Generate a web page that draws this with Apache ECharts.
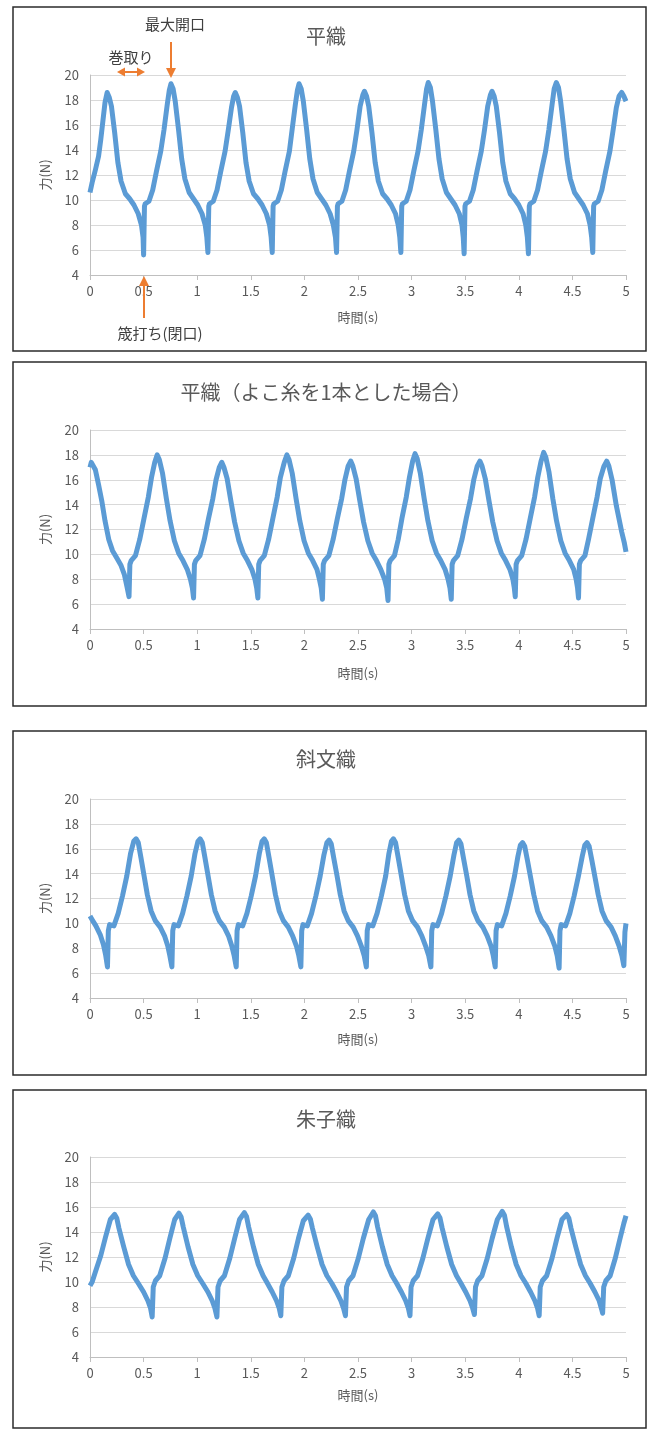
<!DOCTYPE html>
<html>
<head>
<meta charset="utf-8">
<script src="https://cdn.jsdelivr.net/npm/echarts@6/dist/echarts.min.js"></script>
<style>
html,body{margin:0;padding:0;background:#fff;}
#c{width:652px;height:1429px;}
</style>
</head>
<body>
<div id="c"></div>
<script>
// ---- data (time s, force N) ----
const panelTitles = ['平織', '平織（よこ糸を1本とした場合）', '斜文織', '朱子織'];
const xTitle = '時間(s)';
const yTitle = '力(N)';
const xMin = 0, xMax = 5, xStep = 0.5;
const yMin = 4, yMax = 20, yStep = 2;

const hiraori = [
[0,10.6],[0.02,11.4],[0.05,12.4],[0.08,13.5],[0.1,14.8],[0.12,16.3],[0.14,17.8],[0.16,18.6],
[0.18,18.2],[0.2,17.5],[0.23,15.4],[0.26,13.0],[0.29,11.5],[0.33,10.5],[0.37,10.1],[0.41,9.6],[0.45,8.9],[0.48,8.0],[0.495,7.0],[0.5,5.6],
[0.508,9.5],[0.515,9.7],[0.55,9.9],[0.585,10.8],[0.62,12.3],[0.66,13.9],[0.69,15.6],[0.72,17.6],[0.74,18.8],[0.755,19.3],
[0.775,18.9],[0.795,17.9],[0.825,15.7],[0.855,13.3],[0.885,11.7],[0.925,10.6],[0.965,10.1],[1.005,9.6],[1.045,8.9],[1.075,8.0],[1.09,7.0],[1.1,5.8],
[1.108,9.5],[1.115,9.7],[1.15,9.9],[1.185,10.8],[1.22,12.3],[1.26,13.9],[1.29,15.6],[1.32,17.4],[1.34,18.3],[1.355,18.6],
[1.375,18.2],[1.395,17.5],[1.425,15.4],[1.455,13.0],[1.485,11.5],[1.525,10.5],[1.565,10.1],[1.605,9.6],[1.645,8.9],[1.675,8.0],[1.69,7.0],[1.7,5.8],
[1.708,9.5],[1.715,9.7],[1.75,9.9],[1.785,10.8],[1.82,12.3],[1.86,13.9],[1.885,15.6],[1.915,17.6],[1.935,18.8],[1.95,19.3],
[1.97,18.9],[1.99,17.9],[2.02,15.7],[2.05,13.3],[2.08,11.7],[2.12,10.6],[2.16,10.1],[2.2,9.6],[2.24,8.9],[2.27,8.0],[2.29,7.0],[2.3,5.8],
[2.308,9.5],[2.315,9.7],[2.35,9.9],[2.385,10.8],[2.42,12.3],[2.46,13.9],[2.49,15.6],[2.52,17.5],[2.545,18.4],[2.56,18.7],
[2.58,18.3],[2.6,17.5],[2.63,15.4],[2.66,13.0],[2.69,11.5],[2.73,10.5],[2.77,10.1],[2.81,9.6],[2.85,8.9],[2.875,8.0],[2.89,7.0],[2.9,5.8],
[2.908,9.5],[2.915,9.7],[2.95,9.9],[2.985,10.8],[3.02,12.3],[3.06,13.9],[3.09,15.6],[3.12,17.6],[3.14,18.9],[3.155,19.4],
[3.175,19.0],[3.195,17.9],[3.225,15.7],[3.255,13.3],[3.285,11.7],[3.325,10.6],[3.365,10.1],[3.405,9.6],[3.445,8.9],[3.47,8.0],[3.482,7.0],[3.49,5.7],
[3.498,9.5],[3.505,9.7],[3.54,9.9],[3.575,10.8],[3.61,12.3],[3.65,13.9],[3.68,15.6],[3.71,17.5],[3.735,18.4],[3.75,18.7],
[3.77,18.3],[3.79,17.5],[3.82,15.4],[3.85,13.0],[3.88,11.5],[3.92,10.5],[3.96,10.1],[4.0,9.6],[4.04,8.9],[4.065,8.0],[4.08,7.0],[4.09,5.7],
[4.098,9.5],[4.105,9.7],[4.14,9.9],[4.175,10.8],[4.21,12.3],[4.25,13.9],[4.28,15.6],[4.31,17.6],[4.33,18.9],[4.35,19.4],
[4.37,19.0],[4.39,17.9],[4.42,15.7],[4.45,13.3],[4.48,11.7],[4.52,10.6],[4.56,10.1],[4.6,9.6],[4.64,8.9],[4.665,8.0],[4.68,7.0],[4.69,5.8],
[4.698,9.5],[4.705,9.7],[4.74,9.9],[4.775,10.8],[4.81,12.3],[4.85,13.9],[4.88,15.6],[4.91,17.4],[4.935,18.3],[4.96,18.6],[4.98,18.3],[5.0,17.9]
];

const hiraoriSingle = [
[0,17.0],[0.012,17.4],[0.03,17.4],[0.05,16.8],[0.08,15.6],[0.11,14.3],[0.14,12.7],[0.175,11.2],[0.21,10.3],[0.25,9.7],[0.29,9.1],[0.32,8.4],[0.345,7.4],[0.364,6.6],
[0.372,9.2],[0.384,9.5],[0.424,9.9],[0.464,11.2],[0.504,12.9],[0.544,14.6],[0.574,16.2],[0.604,17.4],[0.627,18.0],
[0.647,17.6],[0.677,16.5],[0.712,14.5],[0.747,12.7],[0.787,11.1],[0.827,10.1],[0.867,9.5],[0.907,8.8],[0.937,8.0],[0.955,7.3],[0.966,6.5],
[0.974,9.2],[0.986,9.5],[1.026,9.9],[1.066,11.2],[1.106,12.9],[1.146,14.5],[1.176,16.0],[1.206,17.0],[1.229,17.4],
[1.249,17.0],[1.279,16.1],[1.314,14.3],[1.349,12.6],[1.389,11.1],[1.429,10.1],[1.469,9.5],[1.509,8.8],[1.539,8.0],[1.555,7.3],[1.566,6.5],
[1.574,9.2],[1.586,9.5],[1.626,9.9],[1.666,11.2],[1.706,12.9],[1.746,14.6],[1.776,16.2],[1.812,17.4],[1.837,18.0],
[1.857,17.6],[1.887,16.5],[1.922,14.5],[1.957,12.7],[1.997,11.1],[2.037,10.1],[2.077,9.5],[2.117,8.8],[2.14,8.0],[2.157,7.3],[2.168,6.4],
[2.176,9.2],[2.188,9.5],[2.228,9.9],[2.268,11.2],[2.308,12.9],[2.348,14.5],[2.378,16.0],[2.408,17.1],[2.432,17.5],
[2.452,17.1],[2.482,16.1],[2.517,14.3],[2.552,12.6],[2.592,11.1],[2.632,10.1],[2.672,9.5],[2.712,8.8],[2.748,8.0],[2.768,7.3],[2.78,6.3],
[2.788,9.2],[2.8,9.5],[2.84,9.9],[2.875,11.2],[2.91,12.9],[2.95,14.6],[2.98,16.2],[3.01,17.5],[3.032,18.1],
[3.052,17.7],[3.082,16.5],[3.117,14.5],[3.152,12.7],[3.192,11.1],[3.232,10.1],[3.272,9.5],[3.312,8.8],[3.34,8.0],[3.358,7.3],[3.37,6.4],
[3.378,9.2],[3.39,9.5],[3.43,9.9],[3.47,11.2],[3.51,12.9],[3.55,14.5],[3.58,16.0],[3.612,17.1],[3.637,17.5],
[3.657,17.1],[3.687,16.1],[3.722,14.3],[3.757,12.6],[3.797,11.1],[3.837,10.1],[3.877,9.5],[3.917,8.8],[3.945,8.0],[3.958,7.3],[3.967,6.6],
[3.975,9.2],[3.987,9.5],[4.027,9.9],[4.067,11.2],[4.107,12.9],[4.147,14.6],[4.177,16.2],[4.208,17.5],[4.232,18.2],
[4.252,17.8],[4.282,16.6],[4.317,14.5],[4.352,12.7],[4.392,11.1],[4.432,10.1],[4.472,9.5],[4.512,8.8],[4.535,8.0],[4.548,7.3],[4.557,6.5],
[4.565,9.2],[4.577,9.5],[4.617,9.9],[4.65,11.2],[4.69,12.9],[4.73,14.6],[4.76,16.1],[4.795,17.1],[4.82,17.5],
[4.84,17.1],[4.87,16.0],[4.91,13.9],[4.96,11.8],[4.985,10.9],[5.0,10.2]
];

const shamonori = [
[0,10.6],[0.02,10.3],[0.055,9.8],[0.095,9.1],[0.125,8.3],[0.145,7.5],[0.163,6.5],
[0.171,9.4],[0.183,9.9],[0.223,9.8],[0.263,10.8],[0.303,12.2],[0.343,13.8],[0.378,15.6],[0.408,16.6],[0.43,16.8],
[0.45,16.5],[0.475,15.3],[0.505,13.8],[0.535,12.3],[0.57,11.0],[0.61,10.2],[0.655,9.7],[0.695,9.0],[0.725,8.2],[0.745,7.4],[0.764,6.5],
[0.772,9.4],[0.784,9.9],[0.824,9.8],[0.864,10.8],[0.904,12.2],[0.944,13.8],[0.979,15.6],[1.007,16.6],[1.027,16.8],
[1.047,16.5],[1.072,15.3],[1.102,13.8],[1.132,12.3],[1.167,11.0],[1.207,10.2],[1.252,9.7],[1.292,9.0],[1.322,8.2],[1.345,7.4],[1.364,6.5],
[1.372,9.4],[1.384,9.9],[1.424,9.8],[1.464,10.8],[1.504,12.2],[1.544,13.8],[1.579,15.6],[1.605,16.6],[1.625,16.8],
[1.645,16.5],[1.67,15.3],[1.7,13.8],[1.73,12.3],[1.765,11.0],[1.805,10.2],[1.85,9.7],[1.89,9.0],[1.925,8.2],[1.948,7.4],[1.967,6.5],
[1.975,9.4],[1.987,9.9],[2.027,9.8],[2.067,10.8],[2.107,12.2],[2.147,13.8],[2.182,15.5],[2.21,16.5],[2.23,16.7],
[2.25,16.4],[2.275,15.2],[2.305,13.8],[2.335,12.3],[2.37,11.0],[2.41,10.2],[2.455,9.7],[2.495,9.0],[2.53,8.2],[2.558,7.4],[2.578,6.5],
[2.586,9.4],[2.598,9.9],[2.638,9.8],[2.678,10.8],[2.718,12.2],[2.758,13.8],[2.788,15.6],[2.812,16.6],[2.83,16.8],
[2.85,16.5],[2.875,15.3],[2.905,13.8],[2.935,12.3],[2.97,11.0],[3.01,10.2],[3.055,9.7],[3.095,9.0],[3.13,8.2],[3.16,7.4],[3.18,6.5],
[3.188,9.4],[3.2,9.9],[3.24,9.8],[3.28,10.8],[3.32,12.2],[3.36,13.8],[3.395,15.5],[3.42,16.5],[3.44,16.7],
[3.46,16.4],[3.485,15.2],[3.515,13.8],[3.545,12.3],[3.58,11.0],[3.62,10.2],[3.665,9.7],[3.705,9.0],[3.74,8.2],[3.762,7.4],[3.78,6.5],
[3.788,9.4],[3.8,9.9],[3.84,9.8],[3.88,10.8],[3.92,12.2],[3.96,13.8],[3.992,15.4],[4.015,16.3],[4.035,16.5],
[4.055,16.2],[4.08,15.1],[4.11,13.7],[4.14,12.3],[4.175,11.0],[4.215,10.2],[4.26,9.7],[4.3,9.0],[4.335,8.2],[4.358,7.4],[4.376,6.4],
[4.384,9.4],[4.396,9.9],[4.436,9.8],[4.476,10.8],[4.516,12.2],[4.556,13.8],[4.592,15.4],[4.616,16.3],[4.636,16.5],
[4.656,16.2],[4.681,15.1],[4.711,13.7],[4.741,12.3],[4.776,11.0],[4.816,10.2],[4.861,9.7],[4.9,9.0],[4.935,8.2],[4.962,7.4],[4.98,6.6],[4.99,9.3],[5.0,10.0]
];

const shusuori = [
[0,9.7],[0.02,10.0],[0.05,10.8],[0.1,12.1],[0.145,13.6],[0.19,15.0],[0.23,15.4],
[0.25,15.1],[0.27,14.3],[0.315,12.8],[0.36,11.4],[0.405,10.5],[0.45,9.9],[0.5,9.2],[0.54,8.5],[0.565,7.9],[0.58,7.2],
[0.59,9.6],[0.61,10.1],[0.65,10.5],[0.7,11.9],[0.745,13.5],[0.79,15.0],[0.83,15.5],
[0.85,15.2],[0.87,14.4],[0.915,12.8],[0.96,11.4],[1.005,10.5],[1.05,9.9],[1.1,9.2],[1.14,8.5],[1.165,7.9],[1.184,7.2],
[1.194,9.6],[1.214,10.1],[1.254,10.5],[1.304,11.9],[1.35,13.5],[1.395,15.0],[1.44,15.55],
[1.46,15.25],[1.48,14.4],[1.525,12.8],[1.57,11.4],[1.615,10.5],[1.655,9.9],[1.7,9.2],[1.74,8.5],[1.765,7.9],[1.78,7.3],
[1.79,9.6],[1.81,10.1],[1.85,10.5],[1.9,11.9],[1.945,13.5],[1.99,14.9],[2.035,15.35],
[2.055,15.05],[2.075,14.3],[2.12,12.8],[2.165,11.4],[2.21,10.5],[2.255,9.9],[2.3,9.2],[2.34,8.5],[2.365,7.9],[2.383,7.3],
[2.393,9.6],[2.413,10.1],[2.453,10.5],[2.503,11.9],[2.55,13.5],[2.6,15.0],[2.643,15.6],
[2.663,15.3],[2.683,14.4],[2.728,12.8],[2.773,11.4],[2.818,10.5],[2.86,9.9],[2.905,9.2],[2.945,8.5],[2.97,7.9],[2.985,7.3],
[2.995,9.6],[3.015,10.1],[3.055,10.5],[3.105,11.9],[3.152,13.5],[3.2,15.0],[3.244,15.45],
[3.264,15.15],[3.284,14.35],[3.329,12.8],[3.374,11.4],[3.419,10.5],[3.46,9.9],[3.505,9.2],[3.545,8.5],[3.57,7.9],[3.586,7.4],
[3.596,9.6],[3.616,10.1],[3.656,10.5],[3.706,11.9],[3.752,13.5],[3.8,15.0],[3.846,15.65],
[3.866,15.35],[3.886,14.45],[3.931,12.8],[3.976,11.4],[4.021,10.5],[4.065,9.9],[4.11,9.2],[4.15,8.5],[4.175,7.9],[4.19,7.3],
[4.2,9.6],[4.22,10.1],[4.26,10.5],[4.31,11.9],[4.356,13.5],[4.403,15.0],[4.447,15.4],
[4.467,15.1],[4.487,14.3],[4.532,12.8],[4.577,11.4],[4.622,10.5],[4.665,9.9],[4.71,9.2],[4.75,8.5],[4.77,7.9],[4.782,7.5],
[4.792,9.6],[4.812,10.1],[4.852,10.5],[4.9,11.9],[4.945,13.5],[4.98,14.7],[5.0,15.3]
];

const panelSeries = [hiraori, hiraoriSingle, shamonori, shusuori];

// ---- layout ----
const FONT = '"Noto Sans CJK JP", "Noto Sans", sans-serif';
const TXT = '#595959';
const ORANGE = '#ed7d31';
const BLUE = '#5b9bd5';
const gridTops = [75, 430, 799, 1157];
const gridHeights = [200, 199, 199, 200];
const boxes = [[13,7,633,344],[13,362,633,344],[13,731,633,344],[13,1090,633,338]];
const titleTops = [26, 382, 749, 1109];
const xNameGaps = [36, 38, 35, 32];

const grids = [], xAxes = [], yAxes = [], series = [], titles = [];
for (let i = 0; i < 4; i++) {
  grids.push({left: 90, top: gridTops[i], width: 536, height: gridHeights[i]});
  xAxes.push({
    type: 'value', gridIndex: i, min: xMin, max: xMax, interval: xStep,
    name: xTitle, nameLocation: 'middle', nameGap: xNameGaps[i],
    nameTextStyle: {color: TXT, fontSize: 13, fontFamily: FONT},
    axisLine: {show: true, lineStyle: {color: '#bfbfbf', width: 1}},
    axisTick: {show: true, length: 5, lineStyle: {color: '#bfbfbf'}},
    axisLabel: {color: TXT, fontSize: 13, fontFamily: FONT, margin: 10},
    splitLine: {show: false}
  });
  yAxes.push({
    type: 'value', gridIndex: i, min: yMin, max: yMax, interval: yStep,
    name: yTitle, nameLocation: 'middle', nameGap: 38, nameRotate: 90,
    nameTextStyle: {color: TXT, fontSize: 13, fontFamily: FONT},
    axisLine: {show: true, lineStyle: {color: '#bfbfbf', width: 1}},
    axisTick: {show: false},
    axisLabel: {color: TXT, fontSize: 13, fontFamily: FONT, margin: 11},
    splitLine: {show: true, lineStyle: {color: '#d9d9d9', width: 1}}
  });
  series.push({
    type: 'line', xAxisIndex: i, yAxisIndex: i, data: panelSeries[i],
    showSymbol: false, symbol: 'none', smooth: false,
    lineStyle: {color: BLUE, width: 5, join: 'round'},
    itemStyle: {color: BLUE}, silent: true
  });
  titles.push({
    text: panelTitles[i], left: 'center', top: titleTops[i], padding: 0,
    textStyle: {color: TXT, fontSize: 20, fontWeight: 'normal', fontFamily: FONT}
  });
}

const graphics = [];
boxes.forEach(b => graphics.push({
  type: 'rect', shape: {x: b[0], y: b[1], width: b[2], height: b[3]},
  style: {fill: 'none', stroke: '#2b2b2b', lineWidth: 1.5}, z: 10
}));
// annotations on panel 1
const ann = {color: '#404040', fontSize: 15, fontFamily: FONT};
graphics.push({type: 'text', x: 175, y: 24, style: {text: '最大開口', align: 'center', verticalAlign: 'middle', fill: ann.color, fontSize: ann.fontSize, fontFamily: ann.fontFamily}, z: 10});
graphics.push({type: 'text', x: 131, y: 57, style: {text: '巻取り', align: 'center', verticalAlign: 'middle', fill: ann.color, fontSize: ann.fontSize, fontFamily: ann.fontFamily}, z: 10});
graphics.push({type: 'text', x: 160, y: 333, style: {text: '筬打ち(閉口)', align: 'center', verticalAlign: 'middle', fill: ann.color, fontSize: ann.fontSize, fontFamily: ann.fontFamily}, z: 10});
// down arrow
graphics.push({type: 'line', shape: {x1: 171, y1: 42, x2: 171, y2: 70}, style: {stroke: ORANGE, lineWidth: 2}, z: 10});
graphics.push({type: 'polygon', shape: {points: [[166, 68], [176, 68], [171, 78]]}, style: {fill: ORANGE}, z: 10});
// up arrow
graphics.push({type: 'line', shape: {x1: 144, y1: 284, x2: 144, y2: 318}, style: {stroke: ORANGE, lineWidth: 2}, z: 10});
graphics.push({type: 'polygon', shape: {points: [[139, 286], [149, 286], [144, 276]]}, style: {fill: ORANGE}, z: 10});
// double arrow
graphics.push({type: 'line', shape: {x1: 123, y1: 72, x2: 139, y2: 72}, style: {stroke: ORANGE, lineWidth: 2}, z: 10});
graphics.push({type: 'polygon', shape: {points: [[117, 72], [125, 67.5], [125, 76.5]]}, style: {fill: ORANGE}, z: 10});
graphics.push({type: 'polygon', shape: {points: [[145, 72], [137, 67.5], [137, 76.5]]}, style: {fill: ORANGE}, z: 10});

const chart = echarts.init(document.getElementById('c'), null, {renderer: 'canvas'});
chart.setOption({
  animation: false,
  backgroundColor: '#ffffff',
  title: titles,
  grid: grids,
  xAxis: xAxes,
  yAxis: yAxes,
  series: series,
  graphic: graphics
});
</script>
</body>
</html>
